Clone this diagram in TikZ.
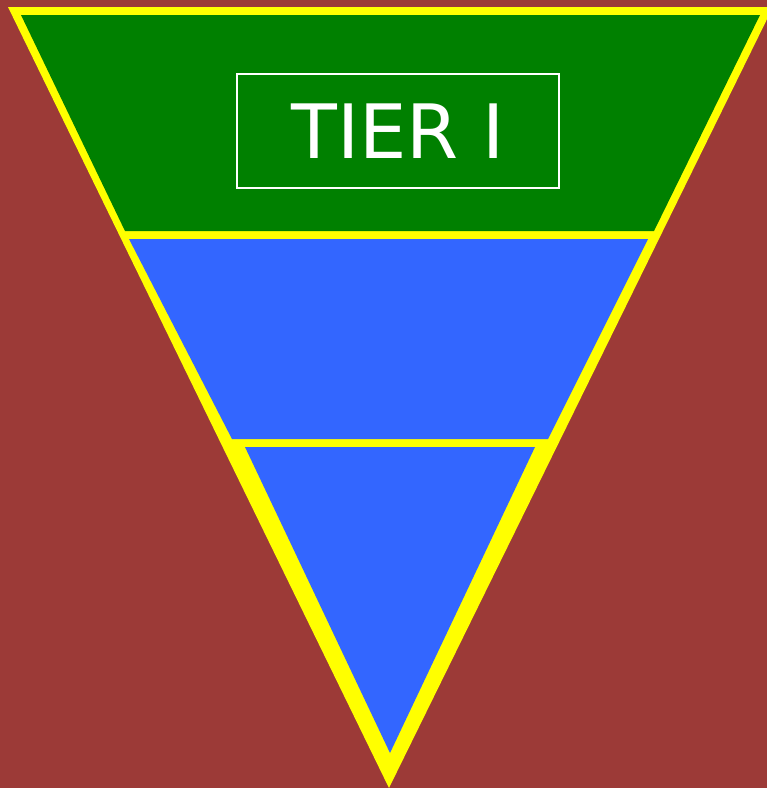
\documentclass[tikz,border=0pt]{standalone}
\usepackage{fontspec}
\setmainfont{DejaVu Sans}
\definecolor{slidered}{RGB}{156,58,55}
\definecolor{tiergreen}{RGB}{0,128,0}
\definecolor{tierblue}{RGB}{51,102,255}
\definecolor{rimyellow}{RGB}{255,255,0}

\begin{document}
\begin{tikzpicture}[x=1pt, y=-1pt,
  tierbox/.style={draw=white, line width=2pt, text=white,
    minimum width=322pt, minimum height=114pt, inner sep=0pt,
    font=\fontsize{75}{90}\selectfont}]
  \useasboundingbox (0,0) rectangle (767,788);
  \fill[slidered] (0,0) rectangle (767,788);
  % outer rim
  \coordinate (o1) at (8,7);
  \coordinate (o2) at (773,7);
  \coordinate (o3) at (389,788);
  \fill[rimyellow] (o1) -- (o2) -- (o3) -- cycle;
  % tier I
  \coordinate (g1) at (21,15);
  \coordinate (g2) at (760,15);
  \coordinate (g3) at (654,231);
  \coordinate (g4) at (125,231);
  \fill[tiergreen] (g1) -- (g2) -- (g3) -- (g4) -- cycle;
  % tier II
  \coordinate (m1) at (129,239);
  \coordinate (m2) at (648,239);
  \coordinate (m3) at (548,439);
  \coordinate (m4) at (232,439);
  \fill[tierblue] (m1) -- (m2) -- (m3) -- (m4) -- cycle;
  % tier III
  \coordinate (b1) at (245,447);
  \coordinate (b2) at (535,447);
  \coordinate (b3) at (390,753);
  \fill[tierblue] (b1) -- (b2) -- (b3) -- cycle;
  \node[tierbox] (tier1) at (398,131) {TIER I};
\end{tikzpicture}
\end{document}
